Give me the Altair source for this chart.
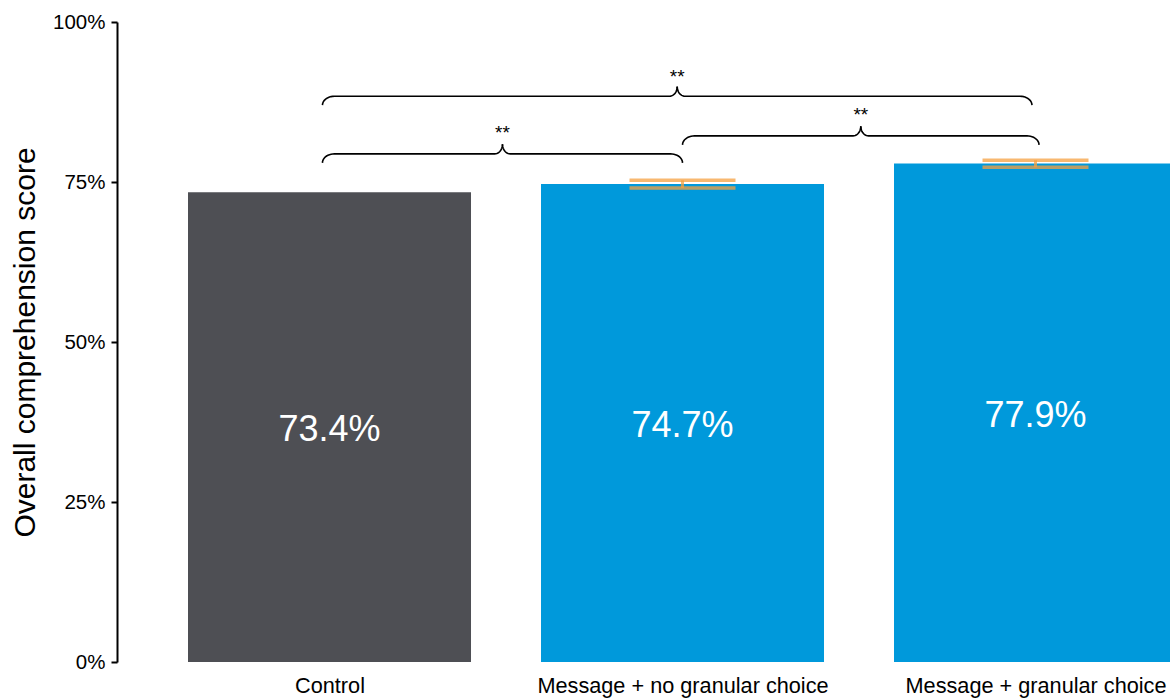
import json
import altair as alt
import numpy as np
import pandas as pd

# ---------------- data ----------------
categories = ["Control", "Message + no granular choice", "Message + granular choice"]
positions = [0, 1, 2]
scores = [73.4, 74.7, 77.9]
bar_colors = ["#4E4F54", "#0099DB", "#0099DB"]

err_pos = [1, 2]
err_low = [74.07, 77.30]
err_high = [75.27, 78.40]

bracket_left = [-0.02, 1.0, -0.02]
bracket_right = [1.0, 2.01, 1.99]
bracket_level = [79.4, 82.2, 88.4]
bracket_text_y = [82.7, 85.5, 91.4]
bracket_label = ["**", "**", "**"]

y_ticks = [0, 25, 50, 75, 100]

# ---------------- tables ----------------
bars = pd.DataFrame({
    "pos": positions,
    "cat": categories,
    "score": scores,
    "color": bar_colors,
    "mid": [s / 2 for s in scores],
    "label": [f"{s:.1f}%" for s in scores],
})
errs = pd.DataFrame({"pos": err_pos, "lo": err_low, "hi": err_high})

# brace glyph shape (style constants)
END_RX, END_H = 0.034, 1.4
TIP_RX, TIP_H = 0.022, 1.5
t = np.linspace(0, np.pi / 2, 12)
rows = []
for b, (l, r, lev) in enumerate(zip(bracket_left, bracket_right, bracket_level)):
    mid = (l + r) / 2
    xs = list(l + END_RX * (1 - np.cos(t))) + list(mid - TIP_RX + TIP_RX * np.sin(t))
    ys = list(lev - END_H * (1 - np.sin(t))) + list(lev + TIP_H * (1 - np.cos(t)))
    for i, (x, y) in enumerate(zip(xs, ys)):
        rows.append({"x": x, "y": y, "seg": f"{b}L", "o": i})
    for i, (x, y) in enumerate(zip(xs, ys)):
        rows.append({"x": 2 * mid - x, "y": y, "seg": f"{b}R", "o": i})
braces = pd.DataFrame(rows)
brace_text = pd.DataFrame({
    "x": [(l + r) / 2 for l, r in zip(bracket_left, bracket_right)],
    "y": bracket_text_y,
    "label": bracket_label,
})

# ---------------- scales / axes ----------------
x_scale = alt.Scale(domain=[-0.602, 2.381], nice=False, zero=False, padding=0)
y_scale = alt.Scale(domain=[0, 100], nice=False, zero=True, padding=0)
FONT = "Liberation Sans"

x_axis = alt.Axis(
    values=positions,
    labelExpr=f"{json.dumps(categories)}[datum.value]",
    domain=False, ticks=False, grid=False, title="",
    labelFontSize=21.7, labelPadding=13, labelColor="black", labelFont=FONT,
    labelFlush=False, labelOverlap=False, labelLimit=0,
)
y_axis = alt.Axis(
    values=y_ticks, labelExpr="datum.value + '%'",
    grid=False, tickSize=6, tickWidth=2, tickColor="black",
    domainColor="black", domainWidth=2,
    labelFontSize=20.5, labelPadding=6, labelColor="black", labelFont=FONT,
    title="Overall comprehension score", titleFontSize=30, titleFontWeight="normal",
    titleFont=FONT, titleColor="black", titleAngle=270, titleX=-92, titleY=320,
    titleAlign="center", titleBaseline="middle",
)


def X(field):
    return alt.X(field, scale=x_scale, axis=x_axis)


def Y(field):
    return alt.Y(field, scale=y_scale, axis=y_axis)


bar_layer = alt.Chart(bars).mark_bar(size=283, clip=True).encode(
    x=X("pos:Q"),
    y=Y("score:Q"),
    y2=alt.datum(0),
    color=alt.Color("color:N", scale=None),
)

value_text = alt.Chart(bars).mark_text(
    color="white", fontSize=36, font=FONT, baseline="middle", align="center", dy=3
).encode(x=X("pos:Q"), y=Y("mid:Q"), text="label:N")

ERR_COLOR = "#F5A040"
err_rule = alt.Chart(errs).mark_rule(color=ERR_COLOR, opacity=0.75, strokeWidth=3).encode(
    x=X("pos:Q"), y=Y("lo:Q"), y2="hi:Q",
)
err_lo = alt.Chart(errs).mark_tick(
    orient="horizontal", size=106, thickness=3.5, color=ERR_COLOR, opacity=0.75
).encode(x=X("pos:Q"), y=Y("lo:Q"))
err_hi = alt.Chart(errs).mark_tick(
    orient="horizontal", size=106, thickness=3.5, color=ERR_COLOR, opacity=0.75
).encode(x=X("pos:Q"), y=Y("hi:Q"))

brace_layer = alt.Chart(braces).mark_line(color="black", strokeWidth=1.6).encode(
    x=X("x:Q"), y=Y("y:Q"), detail="seg:N", order="o:Q",
)
star_layer = alt.Chart(brace_text).mark_text(
    fontSize=19, font=FONT, color="black", baseline="middle", align="center"
).encode(x=X("x:Q"), y=Y("y:Q"), text="label:N")

chart = alt.layer(
    bar_layer, value_text, err_rule, err_lo, err_hi, brace_layer, star_layer
).properties(
    width=1053, height=640,
    padding={"left": 117, "top": 22, "right": 0, "bottom": 36},
    autosize=alt.AutoSizeParams(type="none"),
    background="white",
).configure_view(stroke=None)

chart.save("out.html", embed_options={"renderer": "svg", "actions": False})
